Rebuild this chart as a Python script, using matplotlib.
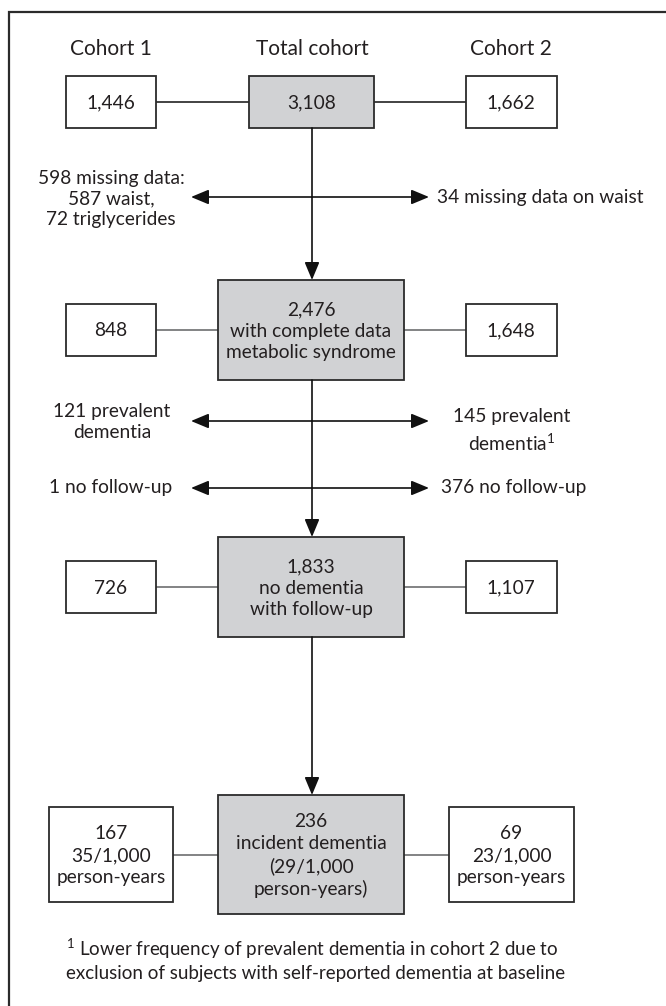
import matplotlib
matplotlib.use("Agg")
import matplotlib.pyplot as plt
from matplotlib.patches import Rectangle

plt.rcParams["font.family"] = ["Lato", "DejaVu Sans"]
plt.rcParams["mathtext.fontset"] = "custom"
plt.rcParams["mathtext.rm"] = "Lato"

# ---------------------------------------------------------------------------
# Flowchart content
# ---------------------------------------------------------------------------
headers = ["Cohort 1", "Total cohort", "Cohort 2"]

total_labels = [
    "3,108",
    "2,476\nwith complete data\nmetabolic syndrome",
    "1,833\nno dementia\nwith follow-up",
    "236\nincident dementia\n(29/1,000\nperson-years)",
]
cohort1_labels = ["1,446", "848", "726", "167\n35/1,000\nperson-years"]
cohort2_labels = ["1,662", "1,648", "1,107", "69\n23/1,000\nperson-years"]

excl_left = [
    "598 missing data:\n587 waist,\n72 triglycerides",
    "121 prevalent\ndementia",
    "1 no follow-up",
]
excl_right = [
    "34 missing data on waist",
    "145 prevalent\ndementia$^{\\mathrm{1}}$",
    "376 no follow-up",
]

footnote = ("$^{\\mathrm{1}}$ Lower frequency of prevalent dementia in cohort 2 due to\n"
            "exclusion of subjects with self-reported dementia at baseline")

# ---------------------------------------------------------------------------
# Layout (pixel coordinates, y downwards)
# ---------------------------------------------------------------------------
W, H = 666, 1006
cx = 312
# (top, bottom) of centre box, (top, bottom) of side boxes
rows = [
    ((76, 128), (76, 128)),
    ((280, 380), (304, 356)),
    ((537, 637), (561, 613)),
    ((795, 914), (807, 902)),
]
centre_x = [(248.5, 374), (218, 404), (218, 404), (218, 404)]
left_x = [(66, 156), (66, 156), (66, 156), (49, 173)]
right_x = [(466, 556.5), (466, 556.5), (466, 556.5), (449, 574)]
excl_y = [197, 421, 488]

GREY = "#d1d2d4"
EDGE = "#2b2b2b"
TXT = "#231f20"
FS = 13.8
LS = 1.33

fig = plt.figure(figsize=(W / 100, H / 100), dpi=100)
ax = fig.add_axes([0, 0, 1, 1])
ax.set_xlim(0, W)
ax.set_ylim(H, 0)
ax.axis("off")

# outer frame: only top and left edges are inside the picture
ax.plot([8.5, 8.5, W], [H, 12, 12], color=EDGE, lw=1.6,
        solid_joinstyle="miter")


def box(x0, x1, y0, y1, text, fill):
    ax.add_patch(Rectangle((x0, y0), x1 - x0, y1 - y0,
                           facecolor=GREY if fill else "white",
                           edgecolor=EDGE, linewidth=1.3, zorder=3))
    ax.text((x0 + x1) / 2, (y0 + y1) / 2 + 1, text, ha="center",
            va="center", fontsize=FS, color=TXT, linespacing=LS, zorder=4)


for hx, h in zip([111, cx, 511], headers):
    ax.text(hx, 49, h, ha="center", va="center", fontsize=15, color=TXT)

for i, ((ct, cb), (st, sb)) in enumerate(rows):
    box(*centre_x[i], ct, cb, total_labels[i], True)
    box(*left_x[i], st, sb, cohort1_labels[i], False)
    box(*right_x[i], st, sb, cohort2_labels[i], False)
    ym = (st + sb) / 2
    lc = "#222222" if i == 0 else "#6d6e70"
    ax.plot([left_x[i][1], centre_x[i][0]], [ym, ym], color=lc, lw=1.2,
            zorder=2)
    ax.plot([centre_x[i][1], right_x[i][0]], [ym, ym], color=lc, lw=1.2,
            zorder=2)

head = "-|>,head_length=0.6,head_width=0.25"
# vertical arrows between centre boxes
for i in range(len(rows) - 1):
    ax.annotate("", xy=(cx, rows[i + 1][0][0]), xytext=(cx, rows[i][0][1]),
                arrowprops=dict(arrowstyle=head, color="#111111", lw=1.2,
                                mutation_scale=18, shrinkA=0, shrinkB=0))

# exclusion arrows (two-headed)
for y in excl_y:
    for tip in (191, 429):
        ax.annotate("", xy=(tip, y), xytext=(cx, y),
                    arrowprops=dict(arrowstyle=head, color="#111111", lw=1.2,
                                    mutation_scale=18, shrinkA=0, shrinkB=0))

ax.text(111, 199, excl_left[0], ha="center", va="center",
        fontsize=FS, color=TXT, linespacing=1.22)
ax.text(112, 422, excl_left[1], ha="center", va="center",
        fontsize=FS, color=TXT, linespacing=LS)
ax.text(111, 488, excl_left[2], ha="center", va="center",
        fontsize=FS, color=TXT)

ax.text(437, 197, excl_right[0], ha="left", va="center",
        fontsize=FS, color=TXT)
ax.text(512, 431, excl_right[1], ha="center", va="center",
        fontsize=FS, color=TXT, linespacing=LS)
ax.text(441, 488, excl_right[2], ha="left", va="center",
        fontsize=FS, color=TXT)

ax.text(66, 959, footnote, ha="left", va="center", fontsize=FS - 0.3,
        color=TXT, linespacing=LS)

fig.savefig("out.png", dpi=100)
